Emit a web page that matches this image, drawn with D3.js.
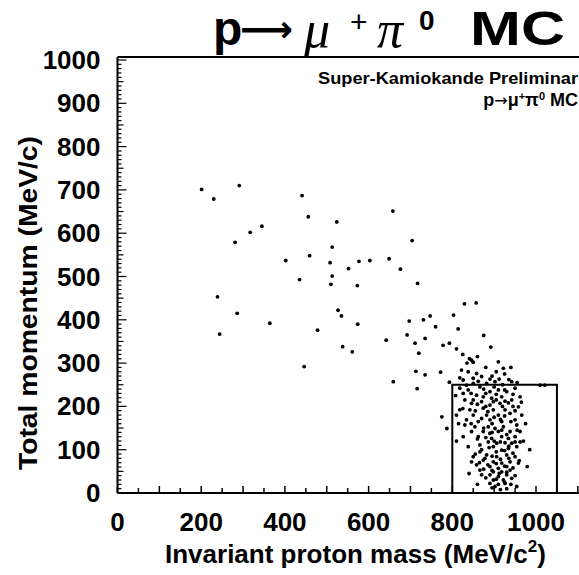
<!DOCTYPE html>
<html>
<head>
<meta charset="utf-8">
<script src="https://cdn.jsdelivr.net/npm/d3@7"></script>
<style>
html,body{margin:0;padding:0;background:#fff;}
svg{display:block;}
</style>
</head>
<body>
<svg id="chart" width="579" height="575"></svg>
<script>
// ---- Data ----
const xTicks = [0, 200, 400, 600, 800, 1000];
const yTicks = [0, 100, 200, 300, 400, 500, 600, 700, 800, 900, 1000];
const signalBox = {x0: 800, x1: 1050, y0: 0, y1: 250};

// scattered events outside the signal region
const scatterX = [201,291,230,441,456,524,658,345,317,281,513,704,402,459,508,577,603,649,552,676,513,435,510,573,717,
  239,286,364,244,478,527,535,574,538,561,446,642,697,731,747,760,692,711,735,778,793,720,713,735,772,659,716,793,775,787,
  829,857,803,814,875,810,892,841,860,846,850,910,922,822,838,858,870,818,826,890,902,912,942];
const scatterY = [701,710,679,687,638,626,651,616,602,579,568,583,537,548,532,535,537,541,518,517,501,493,482,479,484,
  453,415,392,367,376,422,409,390,338,326,292,353,397,400,409,384,365,346,357,341,346,323,281,273,279,257,241,256,176,149,
  437,439,411,379,364,333,337,310,315,307,302,303,288,284,280,276,269,266,261,263,257,263,257];

// dense cluster of events around the proton mass
const clusterX = [834,850,866,882,818,838,890,910,930,950,826,858,874,894,918,962,850,870,898,926,942,1010,1021,
  846,890,914,934,818,842,874,898,926,958,810,850,882,910,938,966,834,862,890,918,950,830,854,886,902,922,954,
  846,874,890,910,938,962,826,862,894,918,934,950,886,906,926,942,962,866,838,898,
  866,918,934,954,850,882,906,930,950,846,874,898,918,938,958,858,890,910,930,866,898,918,938,890,910,930,870,
  898,922,942,910,890,926,954,902,
  905,880,895,925,850,862,875,900,920,935,845,880,905,925,945,860,880,905,920,945,
  830,855,885,900,925,950,870,895,915,940,845,875,895,918,930,955,860,880,900,915,
  935,950,870,888,905,925,945,855,878,895,915,935,960,865,885,905,925,945,875,895,
  912,930,950,880,905,925,940,895,915,930,810,815,825,808,835,825,940,955,965,975,
  979,970,840,860,985];
const clusterY = [249,253,245,253,242,238,234,238,234,242,230,226,222,219,222,222,215,211,211,212,215,249,249,
  207,203,207,208,192,192,196,192,192,199,180,180,180,180,184,180,169,165,169,165,169,157,153,153,149,153,157,
  142,142,138,142,142,142,130,130,126,130,126,130,118,115,116,115,118,111,107,107,
  95,99,103,107,84,88,84,88,84,72,76,72,69,72,69,65,61,57,61,53,49,49,53,42,38,42,42,
  30,30,34,20,22,22,15,15,
  280,290,270,275,265,258,240,245,250,262,230,230,228,238,228,205,200,215,200,200,
  215,190,188,175,178,190,172,160,170,165,160,150,140,145,135,145,125,128,120,118,
  108,118,100,105,95,98,92,90,80,85,78,80,75,70,65,68,62,58,55,52,
  45,48,40,35,32,25,20,12,8,10,120,160,195,225,300,320,290,255,210,160,
  61,120,45,20,100];

// ---- Drawing ----
const FONT = "Liberation Sans, Arial, sans-serif";
const SERIF = "Liberation Serif, Times New Roman, serif";
const svg = d3.select("#chart");
const x = d3.scaleLinear().domain([0, 1100]).range([117.5, 117.5 + 1100 * 0.4185]);
const y = d3.scaleLinear().domain([0, 1000]).range([493, 60]);
const yTop = 57, xRight = 579;

// frame
svg.append("line").attr("x1", x(0)).attr("x2", xRight).attr("y1", yTop).attr("y2", yTop)
  .attr("stroke", "#000").attr("stroke-width", 2);

// x axis (ticks pointing up into plot)
const xMinor = d3.range(0, 1101, 50);
const gx = svg.append("g").attr("transform", `translate(0,${y(0)})`);
gx.append("line").attr("x1", x(0)).attr("x2", xRight).attr("stroke", "#000").attr("stroke-width", 2);
gx.selectAll("line.tk").data(xMinor).join("line").attr("class", "tk")
  .attr("x1", d => x(d)).attr("x2", d => x(d))
  .attr("y1", 0).attr("y2", d => d % 100 === 0 ? -7 : -5)
  .attr("stroke", "#000").attr("stroke-width", 1.5);
gx.selectAll("text").data(xTicks).join("text")
  .attr("x", d => x(d)).attr("y", 38)
  .attr("text-anchor", "middle")
  .attr("font-family", FONT)
  .attr("font-weight", "bold").attr("font-size", 26)
  .text(d => d);

// y axis (ticks pointing right into plot)
const yMinor = d3.range(0, 1001, 10);
const gy = svg.append("g").attr("transform", `translate(${x(0)},0)`);
gy.append("line").attr("y1", yTop).attr("y2", y(0)).attr("stroke", "#000").attr("stroke-width", 2);
gy.selectAll("line.tk").data(yMinor).join("line").attr("class", "tk")
  .attr("y1", d => y(d)).attr("y2", d => y(d))
  .attr("x1", 0).attr("x2", d => d % 100 === 0 ? 9 : (d % 50 === 0 ? 6 : 4))
  .attr("stroke", "#000").attr("stroke-width", 1.2);
gy.selectAll("text").data(yTicks).join("text")
  .attr("x", -17).attr("y", d => y(d) + 9)
  .attr("text-anchor", "end")
  .attr("font-family", FONT)
  .attr("font-weight", "bold").attr("font-size", 26)
  .text(d => d);

// signal box
svg.append("rect")
  .attr("x", x(signalBox.x0)).attr("y", y(signalBox.y1))
  .attr("width", x(signalBox.x1) - x(signalBox.x0))
  .attr("height", y(signalBox.y0) - y(signalBox.y1))
  .attr("fill", "none").attr("stroke", "#000").attr("stroke-width", 2);

// points
const pts = scatterX.map((d, i) => [d, scatterY[i]])
  .concat(clusterX.map((d, i) => [d, clusterY[i]]));
svg.append("g").selectAll("circle").data(pts).join("circle")
  .attr("cx", d => x(d[0])).attr("cy", d => y(d[1])).attr("r", 1.9).attr("fill", "#000");

// axis titles
svg.append("text")
  .attr("transform", `translate(37,303) rotate(-90)`)
  .attr("text-anchor", "middle")
  .attr("font-family", FONT)
  .attr("font-weight", "bold").attr("font-size", 25)
  .attr("textLength", 334).attr("lengthAdjust", "spacingAndGlyphs")
  .text("Total momentum (MeV/c)");

const xl = svg.append("text")
  .attr("x", 165).attr("y", 563)
  .attr("font-family", FONT)
  .attr("font-weight", "bold").attr("font-size", 26);
xl.append("tspan").text("Invariant proton mass (MeV/c");
xl.append("tspan").attr("font-size", 17).attr("dy", -11).text("2");
xl.append("tspan").attr("dy", 11).text(")");

// big title (pieces positioned individually)
const title = svg.append("g");
title.append("text").attr("x", 213).attr("y", 45)
  .attr("font-family", FONT).attr("font-weight", "bold").attr("font-size", 48).text("p");
title.append("text").attr("x", 240).attr("y", 42)
  .attr("font-family", "DejaVu Sans, sans-serif").attr("font-weight", "bold").attr("font-size", 37).text("⟶");
title.append("text").attr("x", 304).attr("y", 47)
  .attr("font-family", SERIF).attr("font-style", "italic").attr("font-size", 52).text("μ");
title.append("text").attr("x", 350).attr("y", 32)
  .attr("font-family", FONT).attr("font-size", 30).text("+");
title.append("text").attr("x", 377).attr("y", 47)
  .attr("font-family", SERIF).attr("font-style", "italic").attr("font-size", 52).text("π");
title.append("text").attr("x", 419).attr("y", 30)
  .attr("font-family", FONT).attr("font-weight", "bold").attr("font-size", 28).text("0");
title.append("text").attr("x", 470).attr("y", 45)
  .attr("font-family", FONT).attr("font-weight", "bold").attr("font-size", 48)
  .attr("textLength", 95).attr("lengthAdjust", "spacingAndGlyphs").text("MC");

// inset label
svg.append("text").attr("x", 578).attr("y", 84).attr("text-anchor", "end")
  .attr("font-family", FONT)
  .attr("font-weight", "bold").attr("font-size", 17)
  .attr("textLength", 260).attr("lengthAdjust", "spacingAndGlyphs")
  .text("Super-Kamiokande Preliminar");
const s = svg.append("text").attr("x", 578).attr("y", 106).attr("text-anchor", "end")
  .attr("font-family", FONT)
  .attr("font-weight", "bold").attr("font-size", 18);
s.append("tspan").text("p");
s.append("tspan").attr("font-family", "DejaVu Sans, sans-serif").attr("font-weight", "normal").attr("font-size", 16).text("→");
s.append("tspan").text("μ");
s.append("tspan").attr("dy", -6).attr("font-size", 11).text("+");
s.append("tspan").attr("dy", 6).text("π");
s.append("tspan").attr("dy", -6).attr("font-size", 11).text("0");
s.append("tspan").attr("dy", 6).text(" MC");
</script>
</body>
</html>
